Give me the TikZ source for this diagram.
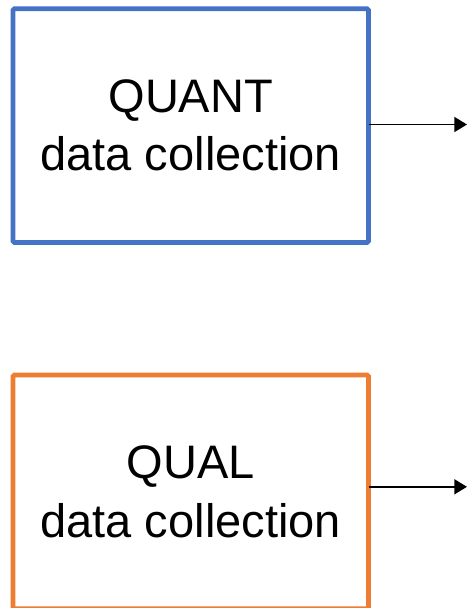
\documentclass[tikz,border=0pt]{standalone}
\usepackage{fontspec}
\setmainfont{Liberation Sans}
\usetikzlibrary{arrows.meta}
\definecolor{qblue}{HTML}{4472C4}
\definecolor{qorange}{HTML}{ED7D31}
\begin{document}
\begin{tikzpicture}[x=1pt,y=-1pt,
  box/.style={draw, line width=4.8pt, rounded corners=1.5pt, fill=white,
    minimum width=355.5pt, minimum height=233.8pt, inner sep=0pt, outer sep=0pt,
    align=center, font=\fontsize{47}{58.3}\selectfont},
  arr/.style={line width=1.7pt, -{Triangle[length=12.7pt,width=15pt]}}]
\useasboundingbox[fill=white] (0,0) rectangle (467,608);
\node[box, draw=qblue] (quant) at (190.75,125.6) {QUANT\\data collection};
\node[box, draw=qorange] (qual) at (190.75,491.9) {QUAL\\data collection};
\coordinate (e1) at (467,124.5);
\coordinate (e2) at (467,486.8);
\draw[arr] (quant.east |- e1) -- (e1);
\draw[arr] (qual.east |- e2) -- (e2);
\end{tikzpicture}
\end{document}
